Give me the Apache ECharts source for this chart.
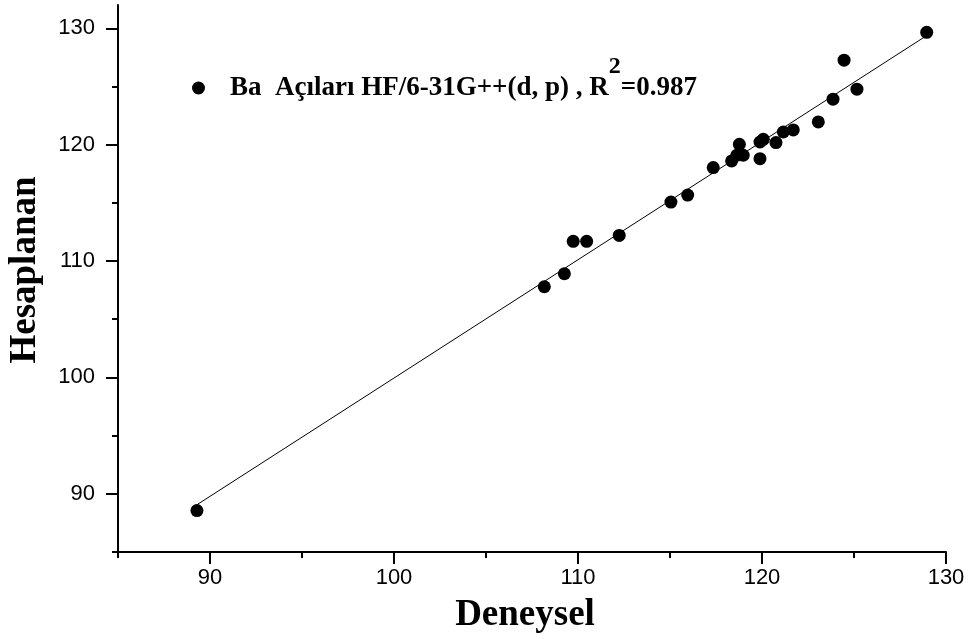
<!DOCTYPE html>
<html>
<head>
<meta charset="utf-8">
<title>Deneysel - Hesaplanan</title>
<script src="https://cdn.jsdelivr.net/npm/echarts@6/dist/echarts.min.js"></script>
<style>
  html, body { margin: 0; padding: 0; background: #fff; }
  #chart { width: 972px; height: 639px; }
</style>
</head>
<body>
<div id="chart"></div>
<script>
// Measured (Deneysel) vs computed (Hesaplanan) Ba angles
const deneysel = [89.29, 108.17, 109.26, 109.74, 110.47, 112.24, 115.05, 115.96, 117.35, 118.35,
  118.63, 118.98, 118.77, 119.89, 119.89, 120.07, 120.76, 121.16, 121.70, 123.06,
  123.86, 124.46, 125.16, 128.95];
const hesaplanan = [88.56, 107.79, 108.91, 111.69, 111.69, 112.20, 115.07, 115.67, 118.03, 118.60,
  119.09, 119.09, 120.03, 118.80, 120.23, 120.46, 120.18, 121.09, 121.27, 121.95,
  123.91, 127.26, 124.77, 129.65];

// Linear fit endpoints
const fitX = [89.29, 128.95];
const fitY = [89.06, 129.37];

// Axis ticks
const majorTicks = [90, 100, 110, 120, 130];
const minorTicks = [85, 95, 105, 115, 125];
const axisMin = 85;
const xMax = 130;
const yMax = 132;

const seriesName = 'Ba Açıları HF/6-31G++(d, p)';

const chart = echarts.init(document.getElementById('chart'));

const labelFont = {
  color: '#000',
  fontFamily: '"Liberation Sans", Arial, sans-serif',
  fontSize: 22
};

function mainAxis(max, margin) {
  return {
    type: 'value',
    min: axisMin,
    max: max,
    axisLine: { show: true, onZero: false, lineStyle: { color: '#000', width: 2 } },
    axisTick: { show: true, inside: false, length: 12, customValues: majorTicks,
      lineStyle: { color: '#000', width: 2 } },
    axisLabel: Object.assign({ show: true, margin: margin, customValues: majorTicks }, labelFont),
    splitLine: { show: false }
  };
}

function minorAxis(max, position) {
  return {
    type: 'value',
    min: axisMin,
    max: max,
    position: position,
    axisLine: { show: false, onZero: false },
    axisTick: { show: true, inside: false, length: 6, customValues: minorTicks,
      lineStyle: { color: '#000', width: 2 } },
    axisLabel: { show: false },
    splitLine: { show: false }
  };
}

const xMain = Object.assign(mainAxis(xMax, 15), { position: 'bottom' });
const yMain = Object.assign(mainAxis(yMax, 23), { position: 'left' });

const serif = '"Liberation Serif", "Times New Roman", serif';

chart.setOption({
  animation: false,
  backgroundColor: '#fff',
  grid: { left: 118, right: 26, top: 5, bottom: 87, containLabel: false },
  xAxis: [xMain, minorAxis(xMax, 'bottom')],
  yAxis: [yMain, minorAxis(yMax, 'left')],
  legend: {
    show: true,
    left: 192,
    top: 55,
    padding: 0,
    icon: 'circle',
    itemWidth: 13,
    itemHeight: 13,
    data: [seriesName],
    formatter: function () {
      return '{a|Ba  Açıları HF/6-31G++(d, p) , R}{s|2}{b|=0.987}';
    },
    textStyle: {
      rich: {
        a: { fontFamily: serif, fontWeight: 'bold', fontSize: 27, color: '#000',
          lineHeight: 66, padding: [0, 0, 0, 20] },
        s: { fontFamily: serif, fontWeight: 'bold', fontSize: 24, color: '#000',
          lineHeight: 24, verticalAlign: 'top' },
        b: { fontFamily: serif, fontWeight: 'bold', fontSize: 27, color: '#000',
          lineHeight: 66 }
      }
    }
  },
  graphic: [
    {
      type: 'text',
      x: 525,
      y: 615,
      style: {
        text: 'Deneysel',
        fontFamily: serif,
        fontWeight: 'bold',
        fontSize: 37,
        fill: '#000',
        align: 'center',
        verticalAlign: 'middle'
      }
    },
    {
      type: 'text',
      x: 25,
      y: 270,
      rotation: Math.PI / 2,
      style: {
        text: 'Hesaplanan',
        fontFamily: serif,
        fontWeight: 'bold',
        fontSize: 37,
        fill: '#000',
        align: 'center',
        verticalAlign: 'middle'
      }
    }
  ],
  series: [
    {
      name: 'fit',
      type: 'line',
      xAxisIndex: 0,
      yAxisIndex: 0,
      data: fitX.map((x, i) => [x, fitY[i]]),
      showSymbol: false,
      symbol: 'none',
      lineStyle: { color: '#000', width: 1 },
      silent: true,
      z: 2
    },
    {
      name: seriesName,
      type: 'scatter',
      xAxisIndex: 0,
      yAxisIndex: 0,
      data: deneysel.map((x, i) => [x, hesaplanan[i]]),
      symbol: 'circle',
      symbolSize: 13,
      itemStyle: { color: '#000', opacity: 1 },
      z: 3
    }
  ]
});
</script>
</body>
</html>
